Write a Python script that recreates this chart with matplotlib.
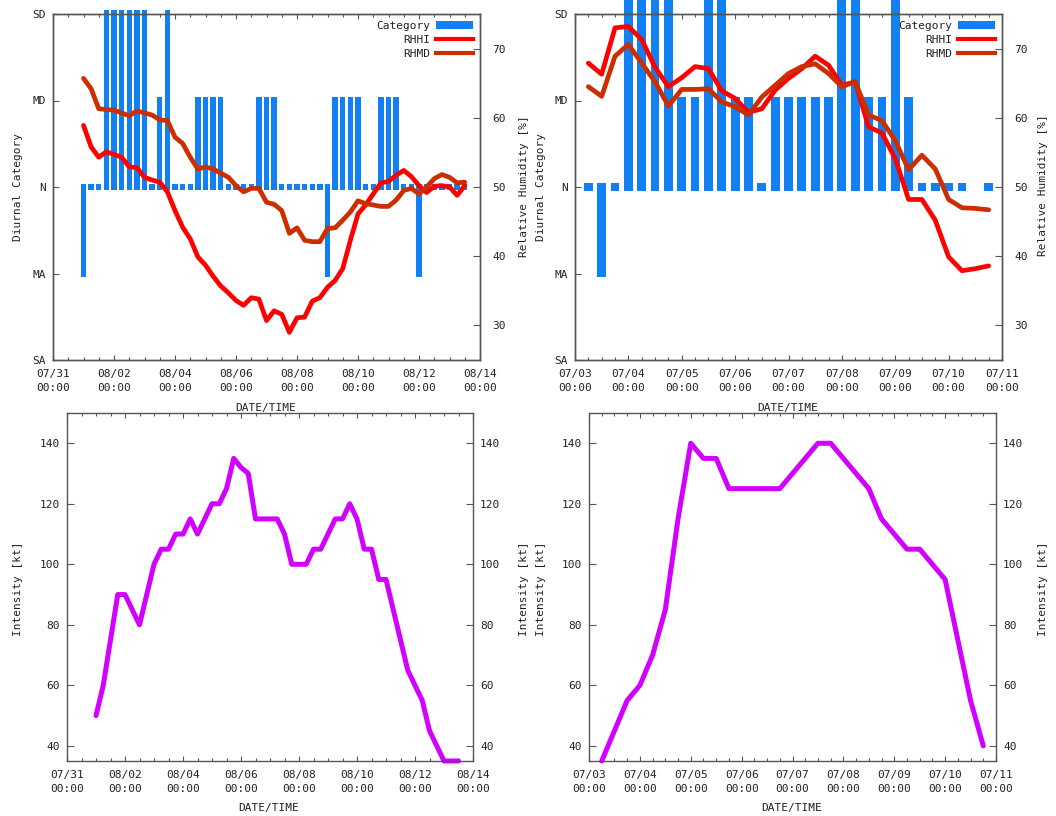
import numpy as np
import pandas as pd
import matplotlib
matplotlib.use("Agg")
import matplotlib.pyplot as plt
import matplotlib.dates as mdates
from matplotlib.ticker import FixedLocator
from matplotlib.patches import Patch
from matplotlib.lines import Line2D

# ---------------------------------------------------------------- data
# Diurnal category codes: SD=2, MD=1, N=0, MA=-1, SA=-2 (nan = no value)
category_ticks = [-2, -1, 0, 1, 2]
category_names = ["SA", "MA", "N", "MD", "SD"]

# August case, 6-hourly from 08/01 00:00
aug_start = "2015-08-01 00:00"
aug_category = [-1, 0, 0, 2, 2, 2, 2, 2, 2, 0, 1, 2, 0, 0, 0, 1, 1, 1, 1,
                0, 0, 0, 0, 1, 1, 1, 0, 0, 0, 0, 0, 0, -1, 1, 1, 1, 1, 0, 0,
                1, 1, 1, 0, 0, -1, 0, 0, 0, 0, 0, 0]
aug_rhhi = [58.9, 55.8, 54.3, 55.1, 54.7, 54.3, 52.9, 52.8, 51.4, 51.0, 50.7,
            49.3, 46.6, 44.2, 42.5, 39.9, 38.7, 37.1, 35.7, 34.7, 33.6, 32.9,
            34.0, 33.8, 30.7, 32.1, 31.6, 29.0, 31.1, 31.2, 33.5, 34.0, 35.5,
            36.5, 38.2, 42.3, 46.1, 47.4, 49.0, 50.6, 50.8, 51.7, 52.4, 51.5,
            50.2, 49.2, 50.1, 50.2, 50.0, 48.8, 50.2]
aug_rhmd = [65.7, 64.2, 61.3, 61.2, 61.1, 60.7, 60.3, 61.0, 60.7, 60.4, 59.7,
            59.6, 57.2, 56.3, 54.3, 52.6, 52.9, 52.6, 52.0, 51.4, 50.2, 49.3,
            49.8, 49.8, 47.8, 47.5, 46.6, 43.3, 44.1, 42.3, 42.1, 42.1, 44.0,
            44.1, 45.2, 46.4, 48.0, 47.6, 47.4, 47.2, 47.2, 48.1, 49.5, 49.8,
            49.0, 50.0, 51.2, 51.8, 51.4, 50.6, 50.7]
aug_intensity = [50, 60, 75, 90, 90, 85, 80, 90, 100, 105, 105, 110, 110, 115,
                 110, 115, 120, 120, 125, 135, 132, 130, 115, 115, 115, 115,
                 110, 100, 100, 100, 105, 105, 110, 115, 115, 120, 115, 105,
                 105, 95, 95, 85, 75, 65, 60, 55, 45, 40, 35, 35, 35]

# July case, 6-hourly from 07/03 06:00
jul_start = "2015-07-03 06:00"
jul_category = [0, -1, 0, 2, 2, 2, 2, 1, 1, 2, 2, 1, 1, 0, 1, 1, 1, 1, 1,
                2, 2, 1, 1, 2, 1, 0, 0, 0, 0, np.nan, 0]
jul_rhhi = [67.9, 66.3, 73.0, 73.2, 71.3, 67.3, 64.5, 65.8, 67.4, 67.1, 63.9,
            62.8, 60.8, 61.3, 64.0, 65.7, 67.1, 68.9, 67.6, 64.7, 65.2, 58.7,
            57.8, 54.1, 48.2, 48.2, 45.2, 39.9, 37.9, 38.2, 38.6]
jul_rhmd = [64.5, 63.1, 68.9, 70.6, 67.9, 65.2, 61.7, 64.1, 64.1, 64.2, 62.3,
            61.6, 60.4, 63.0, 64.7, 66.4, 67.4, 67.8, 66.4, 64.5, 65.2, 60.4,
            59.6, 56.7, 52.5, 54.6, 52.6, 48.2, 47.0, 46.9, 46.7]
jul_intensity = [35, 45, 55, 60, 70, 85, 115, 140, 135, 135, 125, 125, 125,
                 125, 125, 130, 135, 140, 140, 135, 130, 125, 115, 110, 105,
                 105, 100, 95, 75, 55, 40]

# ---------------------------------------------------------------- style
W, H = 1056, 816
BLUE = "#1180f2"
RED = "#ff0000"
BROWN = "#cc2e00"
MAGENTA = "#d200ff"
FRAME = "#555555"
TEXT = "#222222"
FONT = "DejaVu Sans Mono"
FS = 8

plt.rcParams.update({
    "font.family": FONT,
    "font.size": FS,
    "text.color": TEXT,
    "axes.edgecolor": FRAME,
    "axes.linewidth": 1.0,
    "xtick.color": FRAME,
    "ytick.color": FRAME,
    "xtick.labelcolor": TEXT,
    "ytick.labelcolor": TEXT,
    "xtick.direction": "in",
    "ytick.direction": "in",
})


def px_axes(fig, left, top, right, bottom):
    return fig.add_axes([left / W, 1 - bottom / H, (right - left) / W,
                         (bottom - top) / H])


def fig_label(fig, x, y, s, rot=0):
    fig.text(x / W, 1 - y / H, s, rotation=rot, ha="center", va="center",
             fontsize=FS, color=TEXT, family=FONT)


def time_axis(ax, start, end, major, minor):
    ax.set_xlim(mdates.date2num(pd.Timestamp(start)),
                mdates.date2num(pd.Timestamp(end)))
    ax.xaxis.set_major_locator(FixedLocator(
        mdates.date2num(pd.date_range(start, end, freq=major))))
    ax.xaxis.set_minor_locator(FixedLocator(
        mdates.date2num(pd.date_range(start, end, freq=minor))))
    ax.xaxis.set_major_formatter(mdates.DateFormatter("%m/%d\n%H:%M"))
    ax.tick_params(axis="x", which="both", top=True, bottom=True, pad=6.5)
    ax.tick_params(axis="x", which="major", length=3.5, width=0.8)
    ax.tick_params(axis="x", which="minor", length=2.2, width=0.8)
    for lab in ax.get_xticklabels():
        lab.set_linespacing(1.55)


def six_hourly(start, n):
    return mdates.date2num(pd.date_range(start, periods=n, freq="6h"))


def rh_panel(fig, box, start, codes, rhhi, rhmd, xlim, major, minor,
             bar_width, pad, top_pad):
    ax = px_axes(fig, *box)
    t = six_hourly(start, len(codes))
    c = np.asarray(codes, dtype=float)
    ok = ~np.isnan(c)
    lo = np.minimum(c[ok], 0) - pad
    hi = np.maximum(c[ok], 0) + np.where(c[ok] >= 2, top_pad, pad)
    ax.bar(t[ok], hi - lo, bottom=lo, width=bar_width, color=BLUE,
           linewidth=0, clip_on=False, zorder=2)
    ax.set_ylim(-2, 2)
    ax.set_yticks(category_ticks, category_names)
    ax.tick_params(axis="y", length=4, width=0.8, pad=5, right=False)
    time_axis(ax, xlim[0], xlim[1], major, minor)

    ax2 = ax.twinx()
    th = six_hourly(start, len(rhhi))
    ax2.plot(th, rhhi, color=RED, lw=3.4, solid_joinstyle="round",
             solid_capstyle="round", zorder=3)
    ax2.plot(th, rhmd, color=BROWN, lw=3.4, solid_joinstyle="round",
             solid_capstyle="round", zorder=3)
    ax2.set_ylim(25, 75)
    ax2.set_yticks([30, 40, 50, 60, 70])
    ax2.tick_params(axis="y", length=5, width=0.8, pad=9)
    handles = [Patch(facecolor=BLUE, edgecolor="none"),
               Line2D([], [], color=RED, lw=3.0),
               Line2D([], [], color=BROWN, lw=3.0)]
    ax2.legend(handles, ["Category", "RHHI", "RHMD"], loc="upper right",
               frameon=False, markerfirst=False, handlelength=3.3,
               handletextpad=0.5, labelspacing=0.33, borderpad=0.2,
               borderaxespad=0.45, prop={"family": FONT, "size": FS})
    return ax


def intensity_panel(fig, box, start, values, xlim, major, minor):
    ax = px_axes(fig, *box)
    ax.set_facecolor("none")
    t = six_hourly(start, len(values))
    ax.plot(t, values, color=MAGENTA, lw=3.6, solid_joinstyle="round",
            solid_capstyle="round", clip_on=False)
    ax.set_ylim(35, 150)
    ax.set_yticks([40, 60, 80, 100, 120, 140])
    ax.tick_params(axis="y", length=5, width=0.8, left=True, right=True,
                   labelleft=True, labelright=True, pad=5)
    time_axis(ax, xlim[0], xlim[1], major, minor)
    return ax


fig = plt.figure(figsize=(W / 100, H / 100), dpi=100)
fig.patch.set_facecolor("white")

# top row: diurnal category and relative humidity
rh_panel(fig, (53, 14, 480, 360), aug_start, aug_category, aug_rhhi,
         aug_rhmd, ("2015-07-31", "2015-08-14"), "2D", "12h",
         0.175, 0.038, 0.045)
rh_panel(fig, (575, 14, 1002, 360), jul_start, jul_category, jul_rhhi,
         jul_rhmd, ("2015-07-03", "2015-07-11"), "1D", "6h",
         0.165, 0.045, 0.2)

# bottom row: intensity
intensity_panel(fig, (67, 413, 473, 761), aug_start, aug_intensity,
                ("2015-07-31", "2015-08-14"), "2D", "12h")
intensity_panel(fig, (589, 413, 996, 761), jul_start, jul_intensity,
                ("2015-07-03", "2015-07-11"), "1D", "6h")

# axis titles
fig_label(fig, 18, 187, "Diurnal Category", 90)
fig_label(fig, 524, 186, "Relative Humidity [%]", 90)
fig_label(fig, 541, 187, "Diurnal Category", 90)
fig_label(fig, 1043, 185, "Relative Humidity [%]", 90)
fig_label(fig, 266, 408, "DATE/TIME")
fig_label(fig, 788, 408, "DATE/TIME")

fig_label(fig, 18, 589, "Intensity [kt]", 90)
fig_label(fig, 524, 589, "Intensity [kt]", 90)
fig_label(fig, 541, 589, "Intensity [kt]", 90)
fig_label(fig, 1043, 589, "Intensity [kt]", 90)
fig_label(fig, 269, 808, "DATE/TIME")
fig_label(fig, 792, 808, "DATE/TIME")

fig.savefig("out.png", dpi=100, facecolor="white")
